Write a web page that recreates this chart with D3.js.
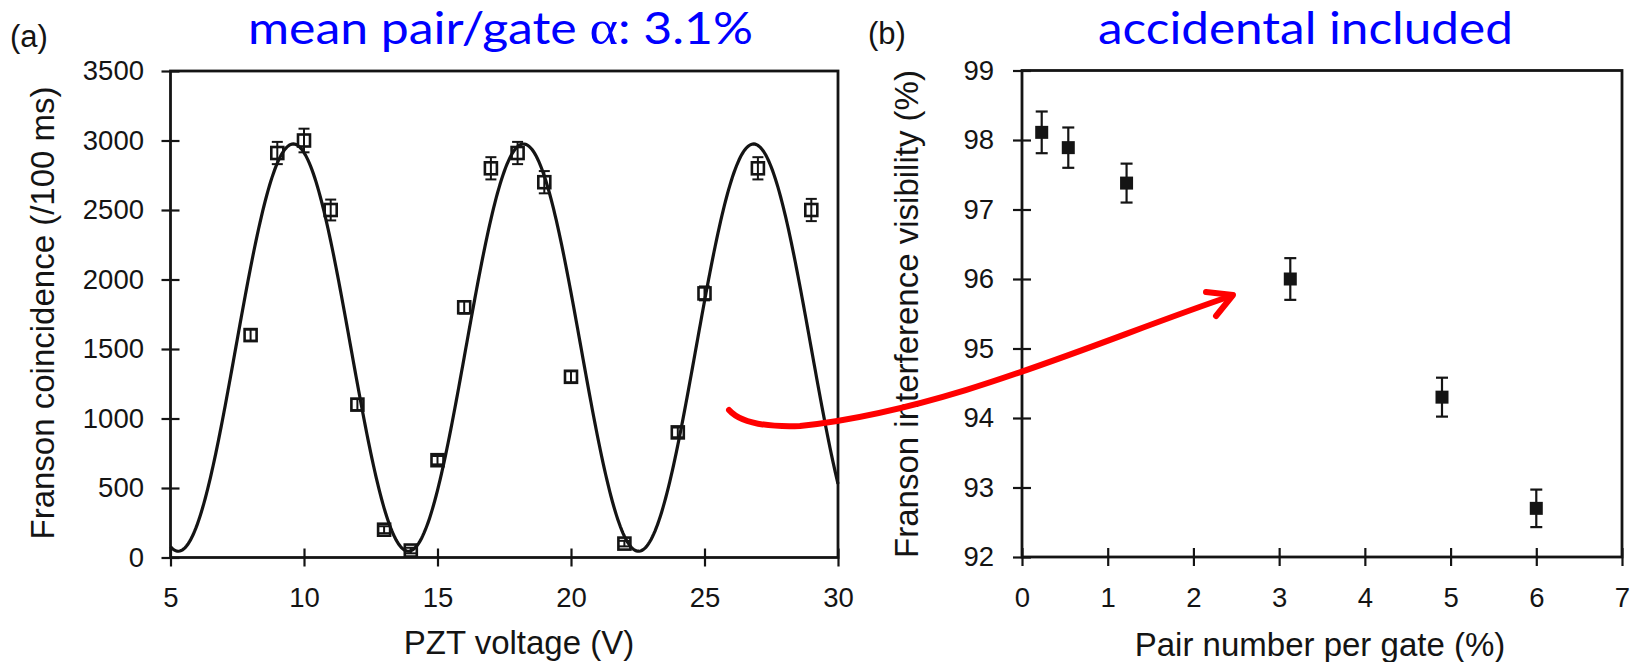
<!DOCTYPE html>
<html>
<head>
<meta charset="utf-8">
<script src="https://cdn.jsdelivr.net/npm/d3@7"></script>
<style>
  html, body { margin: 0; padding: 0; background: #fff; }
  svg { display: block; font-family: "Liberation Sans", Arial, Helvetica, sans-serif; }
</style>
</head>
<body>
<svg id="chart" width="1631" height="662"></svg>
<script>
// (a) Franson coincidences per 100 ms against PZT voltage
const pztVoltage     = [8, 9, 10, 11, 12, 13, 14, 15, 16, 17, 18, 19, 20, 22, 24, 25, 27, 29];
const coincidence    = [1600, 2910, 3000, 2500, 1100, 200, 50, 700, 1800, 2800, 2910, 2700, 1300, 100, 900, 1900, 2800, 2500];
const coincidenceErr = [40, 80, 85, 75, 40, 25, 20, 30, 45, 80, 80, 80, 40, 20, 35, 50, 80, 80];
// fitted fringe, parameters (offset, amplitude, period in V, first peak in V)
const fitOffset = 1510, fitAmplitude = 1465, fitPeriod = 8.62, fitPeakAt = 9.6;
const voltTicks = [5, 10, 15, 20, 25, 30];
const coincTicks = [0, 500, 1000, 1500, 2000, 2500, 3000, 3500];

// (b) visibility against mean pair number per gate
const pairPerGate   = [0.23, 0.54, 1.22, 3.13, 4.9, 6.0];
const visibility    = [98.11, 97.89, 97.38, 96.0, 94.3, 92.7];
const visibilityErr = [0.30, 0.29, 0.28, 0.30, 0.28, 0.27];
const pairTicks = [0, 1, 2, 3, 4, 5, 6, 7];
const visTicks  = [92, 93, 94, 95, 96, 97, 98, 99];

const INK = '#141414';
const svg = d3.select('#chart');

const xA = d3.scaleLinear().domain([5, 30]).range([170.5, 838]);
const yA = d3.scaleLinear().domain([0, 3500]).range([557.5, 71]);
const xB = d3.scaleLinear().domain([0, 7]).range([1022, 1622]);
const yB = d3.scaleLinear().domain([92, 99]).range([557, 70.5]);

function frame(x, y, xt, yt, yPad){
  const g = svg.append('g');
  const [x0, x1] = x.range(), [y0, y1] = y.range();
  g.append('rect').attr('x', x0).attr('y', y1).attr('width', x1 - x0).attr('height', y0 - y1)
    .attr('fill', 'none').attr('stroke', INK).attr('stroke-width', 2.8);

  const fmt = d3.format('d');
  const ax = g.append('g').attr('transform', `translate(0,${y0})`)
    .call(d3.axisBottom(x).tickValues(xt).tickFormat(fmt).tickSize(9).tickPadding(21).tickSizeOuter(0));
  const ay = g.append('g').attr('transform', `translate(${x0},0)`)
    .call(d3.axisLeft(y).tickValues(yt).tickFormat(fmt).tickSize(9).tickPadding(yPad).tickSizeOuter(0));
  ax.selectAll('.tick line').attr('y1', -9);
  ay.selectAll('.tick line').attr('x1', 9);
  [ax, ay].forEach(a => {
    a.select('.domain').remove();
    a.attr('font-size', 27.5).attr('font-family', null);
    a.selectAll('.tick line').attr('stroke', INK).attr('stroke-width', 2.2);
    a.selectAll('.tick text').attr('fill', INK);
  });
  return g;
}

// ---- panel (a)
frame(xA, yA, voltTicks, coincTicks, 17.5);

const fitV = d3.range(5, 30.0001, 0.05);
svg.append('path')
  .attr('d', d3.line()
    .x(v => xA(v))
    .y(v => yA(fitOffset + fitAmplitude * Math.cos(2 * Math.PI * (v - fitPeakAt) / fitPeriod)))(fitV))
  .attr('fill', 'none').attr('stroke', INK).attr('stroke-width', 3.2);

const ptsA = pztVoltage.map((v, i) => ({ x: v, y: coincidence[i], e: coincidenceErr[i] }));
const errA = svg.append('g').attr('stroke', INK).attr('stroke-width', 2);
ptsA.forEach(d => {
  const cx = xA(d.x), t = yA(d.y + d.e), b = yA(d.y - d.e);
  errA.append('line').attr('x1', cx).attr('x2', cx).attr('y1', t).attr('y2', b);
  errA.append('line').attr('x1', cx - 5.5).attr('x2', cx + 5.5).attr('y1', t).attr('y2', t);
  errA.append('line').attr('x1', cx - 5.5).attr('x2', cx + 5.5).attr('y1', b).attr('y2', b);
});
svg.append('g').selectAll('rect').data(ptsA).join('rect')
  .attr('x', d => xA(d.x) - 6).attr('y', d => yA(d.y) - 6)
  .attr('width', 12).attr('height', 12)
  .attr('fill', 'none').attr('stroke', INK).attr('stroke-width', 2.6);

// ---- panel (b)
frame(xB, yB, pairTicks, visTicks, 19);

const ptsB = pairPerGate.map((p, i) => ({ x: p, y: visibility[i], e: visibilityErr[i] }));
const errB = svg.append('g').attr('stroke', INK).attr('stroke-width', 2.2);
ptsB.forEach(d => {
  const cx = xB(d.x), t = yB(d.y + d.e), b = yB(d.y - d.e);
  errB.append('line').attr('x1', cx).attr('x2', cx).attr('y1', t).attr('y2', b);
  errB.append('line').attr('x1', cx - 6).attr('x2', cx + 6).attr('y1', t).attr('y2', t);
  errB.append('line').attr('x1', cx - 6).attr('x2', cx + 6).attr('y1', b).attr('y2', b);
});
svg.append('g').selectAll('rect').data(ptsB).join('rect')
  .attr('x', d => xB(d.x) - 6.5).attr('y', d => yB(d.y) - 6.5)
  .attr('width', 13).attr('height', 13).attr('fill', INK);

// ---- axis titles
const title = (x, y, txt, rot) => svg.append('text')
  .attr('transform', `translate(${x},${y})` + (rot ? ' rotate(-90)' : ''))
  .attr('text-anchor', 'middle').attr('font-size', 33).attr('fill', INK).text(txt);
title(519, 654, 'PZT voltage (V)');
title(1320, 656, 'Pair number per gate (%)');
title(54, 313, 'Franson coincidence (/100 ms)', true);
title(918, 314, 'Franson interference visibility (%)', true);

svg.append('text').attr('x', 10).attr('y', 47).attr('font-size', 31).attr('fill', INK).text('(a)');
svg.append('text').attr('x', 868).attr('y', 44).attr('font-size', 31).attr('fill', INK).text('(b)');

// ---- blue slide headings, squeezed to the width they take in the figure
function heading(x0, base, width, parts){
  const g = svg.append('g');
  const t = g.append('text').attr('font-family', 'Lato, "Open Sans", sans-serif')
    .attr('font-size', 45).attr('fill', '#0000ff');
  parts.forEach(p => t.append('tspan').attr('font-family', p.serif ? '"Liberation Serif", "DejaVu Serif", serif' : null)
    .attr('font-size', p.serif ? 49 : null).text(p.s));
  const w = t.node().getBBox().width;
  g.attr('transform', `translate(${x0},${base}) scale(${width / w},1)`);
}
heading(248, 44, 505, [{ s: 'mean pair/gate ' }, { s: 'α', serif: true }, { s: ': 3.1%' }]);
heading(1098, 44, 415, [{ s: 'accidental included' }]);

// ---- red annotation arrow from the 3.1 % fringe to its visibility point
const arrow = svg.append('g').attr('fill', 'none').attr('stroke', '#ff0000')
  .attr('stroke-width', 6).attr('stroke-linecap', 'round').attr('stroke-linejoin', 'round');
arrow.append('path').attr('d', 'M729,410 Q745,428 800,426 C950,410 1100,340 1231,296');
arrow.append('path').attr('d', 'M1206,292 L1233,295 L1216,316');
</script>
</body>
</html>
